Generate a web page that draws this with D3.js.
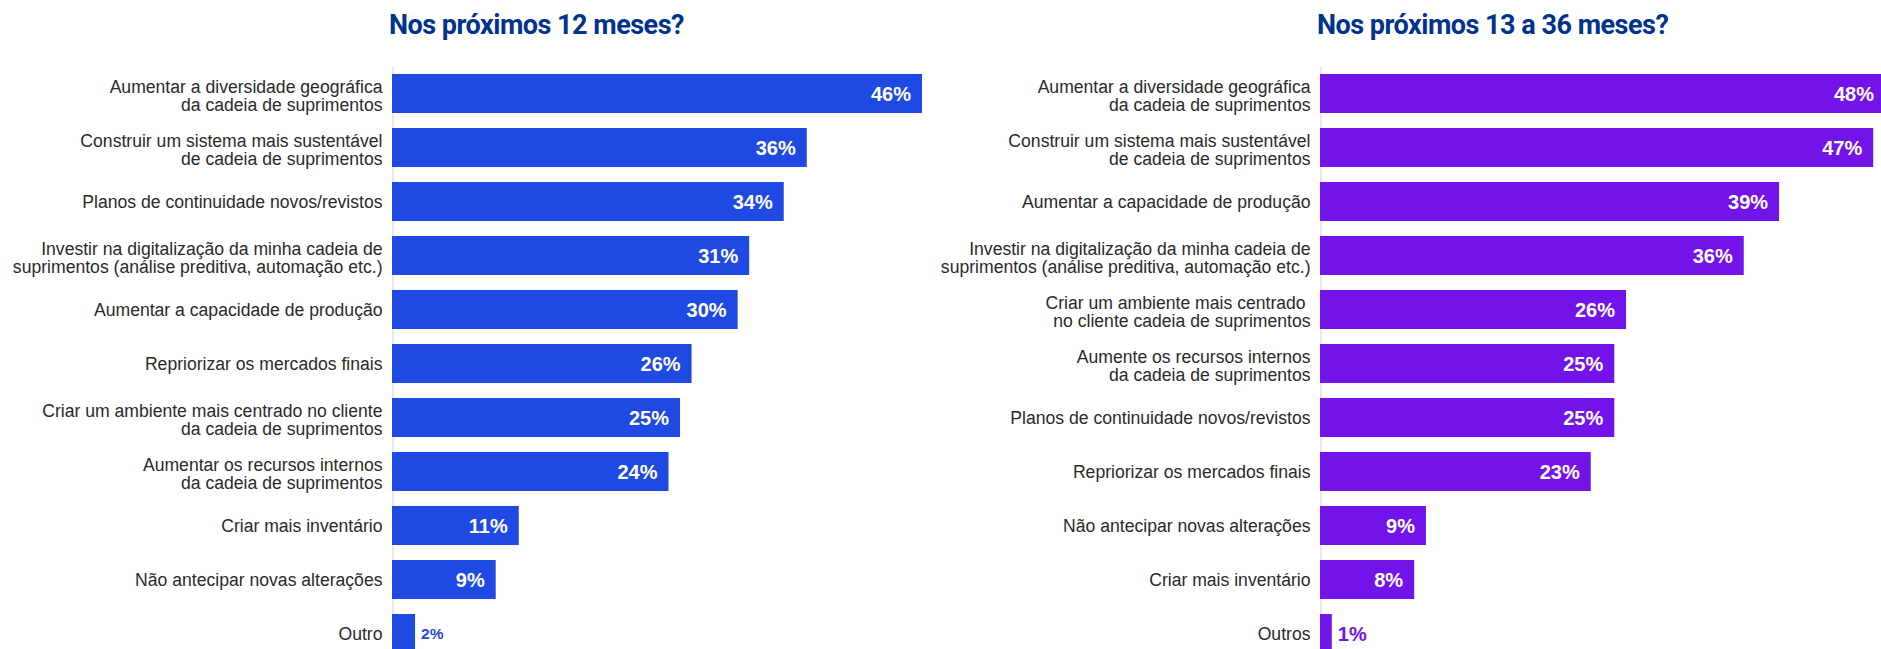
<!DOCTYPE html>
<html lang="pt">
<head>
<meta charset="utf-8">
<script src="https://cdn.jsdelivr.net/npm/d3@7"></script>
<style>
  html, body { margin: 0; padding: 0; background: #fff; }
  svg { display: block; }
</style>
</head>
<body>
<svg id="chart" width="1881" height="649"></svg>
<script>
// Prioridades da cadeia de suprimentos em dois horizontes de tempo
const titleShort = "Nos próximos 12 meses?";
const titleLong = "Nos próximos 13 a 36 meses?";

const shortCategories = [
  "Aumentar a diversidade geográfica\nda cadeia de suprimentos",
  "Construir um sistema mais sustentável\nde cadeia de suprimentos",
  "Planos de continuidade novos/revistos",
  "Investir na digitalização da minha cadeia de\nsuprimentos (análise preditiva, automação etc.)",
  "Aumentar a capacidade de produção",
  "Repriorizar os mercados finais",
  "Criar um ambiente mais centrado no cliente\nda cadeia de suprimentos",
  "Aumentar os recursos internos\nda cadeia de suprimentos",
  "Criar mais inventário",
  "Não antecipar novas alterações",
  "Outro"
];
const shortValues = [46, 36, 34, 31, 30, 26, 25, 24, 11, 9, 2];

const longCategories = [
  "Aumentar a diversidade geográfica\nda cadeia de suprimentos",
  "Construir um sistema mais sustentável\nde cadeia de suprimentos",
  "Aumentar a capacidade de produção",
  "Investir na digitalização da minha cadeia de\nsuprimentos (análise preditiva, automação etc.)",
  "Criar um ambiente mais centrado \nno cliente cadeia de suprimentos",
  "Aumente os recursos internos\nda cadeia de suprimentos",
  "Planos de continuidade novos/revistos",
  "Repriorizar os mercados finais",
  "Não antecipar novas alterações",
  "Criar mais inventário",
  "Outros"
];
const longValues = [48, 47, 39, 36, 26, 25, 25, 23, 9, 8, 1];

const svg = d3.select("#chart");

const panels = [
  { title: titleShort, cats: shortCategories, vals: shortValues,
    x0: 392, maxVal: 46, maxX: 922, color: "#1E49E2", outsideSize: 15.5 },
  { title: titleLong, cats: longCategories, vals: longValues,
    x0: 1320, maxVal: 48, maxX: 1885, color: "#7213EA", outsideSize: 20 }
];

const rowStep = 54, barH = 39;
const pad = (rowStep - barH) / rowStep;

panels.forEach(p => {
  const g = svg.append("g");
  const ids = p.cats.map((c, i) => i);

  const x = d3.scaleLinear().domain([0, p.maxVal]).range([p.x0, p.maxX]);
  const y = d3.scaleBand()
    .domain(ids)
    .range([66.5, 66.5 + ids.length * rowStep])
    .paddingInner(pad)
    .paddingOuter(pad / 2);

  // Title
  g.append("text")
    .attr("x", p.x0 - 3)
    .attr("y", 34)
    .attr("font-family", "Roboto, 'Liberation Sans', Arial, sans-serif")
    .attr("font-weight", 700)
    .attr("font-size", 27)
    .attr("letter-spacing", -0.5)
    .attr("fill", "#00338D")
    .text(p.title);

  // Category axis
  const axis = d3.axisLeft(y).tickSize(0).tickPadding(10).tickFormat(i => p.cats[i]);
  const ax = g.append("g")
    .attr("transform", `translate(${p.x0 + 0.5},0)`)
    .call(axis);
  ax.select(".domain").attr("stroke", "#D8C6F4").attr("stroke-width", 1);
  ax.selectAll(".tick text")
    .attr("font-family", "'Liberation Sans', Arial, sans-serif")
    .attr("font-size", 17.6)
    .attr("fill", "#2a2a2a")
    .attr("dy", null)
    .each(function(i) {
      const lines = p.cats[i].split("\n");
      const t = d3.select(this).text(null);
      if (lines.length === 1) {
        t.append("tspan").attr("x", -10).attr("y", 6.5).text(lines[0]);
      } else {
        t.append("tspan").attr("x", -10).attr("y", -0.5).text(lines[0]);
        t.append("tspan").attr("x", -10).attr("y", 17.3).text(lines[1]);
      }
    });

  // Bars
  g.selectAll("rect.bar")
    .data(p.vals)
    .join("rect")
    .attr("class", "bar")
    .attr("x", x(0))
    .attr("y", (d, i) => y(i))
    .attr("width", d => x(d) - x(0))
    .attr("height", y.bandwidth())
    .attr("fill", p.color);

  // Value labels
  g.selectAll("text.val")
    .data(p.vals)
    .join("text")
    .attr("class", "val")
    .attr("font-family", "'Liberation Sans', Arial, sans-serif")
    .attr("font-weight", 700)
    .attr("font-size", d => d <= 2 ? p.outsideSize : 20)
    .attr("text-anchor", d => d <= 2 ? "start" : "end")
    .attr("x", d => d <= 2 ? x(d) + 6 : x(d) - 11)
    .attr("y", (d, i) => y(i) + y.bandwidth() / 2 + (d <= 2 ? p.outsideSize * 0.36 : 7.2))
    .attr("fill", d => d <= 2 ? p.color : "#fff")
    .text(d => d + "%");
});
</script>
</body>
</html>
